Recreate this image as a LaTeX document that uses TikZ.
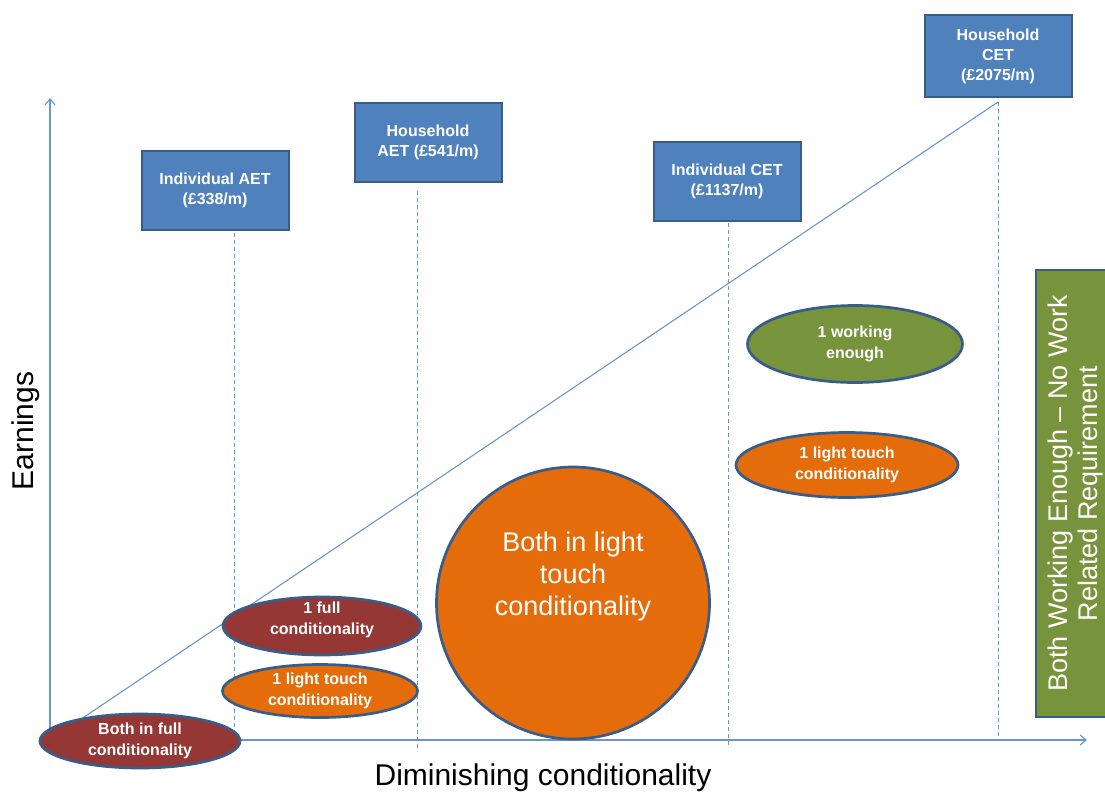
\documentclass[tikz,border=0pt]{standalone}
\usepackage{fontspec}
\setmainfont{Liberation Sans}
\usetikzlibrary{shapes.geometric,arrows.meta}
\definecolor{axisblue}{HTML}{6A96CC}
\definecolor{boxblue}{HTML}{4F81BD}
\definecolor{edgeblue}{HTML}{385D8A}
\definecolor{darkred}{HTML}{953735}
\definecolor{orangef}{HTML}{E46C0A}
\definecolor{greenf}{HTML}{77933C}
\tikzset{
  axisline/.style={draw=axisblue, line width=1.1pt},
  guide/.style={draw=axisblue, line width=1pt, dash pattern=on 4pt off 3pt},
  etbox/.style={rectangle, fill=boxblue, draw=edgeblue, line width=2pt, text=white,
    minimum width=147pt, minimum height=79pt, inner sep=0pt, align=center,
    font=\bfseries\fontsize{16}{20}\selectfont},
  blob/.style={ellipse, draw=edgeblue, line width=2.7pt, text=white, inner sep=0pt,
    align=center, font=\bfseries\fontsize{16}{21}\selectfont},
  blobtext/.style={text=white, inner sep=0pt, align=center},
}
\begin{document}
\begin{tikzpicture}[x=1pt,y=-1pt]
\useasboundingbox (0,0) rectangle (1105,792);
\clip (0,0) rectangle (1105,792);
% axes
\coordinate (O) at (50,740);
\coordinate (ytop) at (50,98);
\coordinate (xend) at (1087,740);
\draw[axisline, -{Straight Barb[length=6pt,width=10pt]}] (O) -- (ytop);
\draw[axisline, -{Straight Barb[length=6pt,width=10pt]}] (O) -- (xend);
% boxes
\node[etbox] (iaet) at (215,190) {Individual AET\\(£338/m)};
\node[etbox] (haet) at (428,142) {Household\\AET (£541/m)};
\node[etbox] (icet) at (727,181) {Individual CET\\(£1137/m)};
\node[etbox, minimum height=81pt] (hcet) at (998,56) {Household\\CET\\(£2075/m)};
% guide lines
\coordinate (g1a) at (234,233); \coordinate (g1b) at (234,740);
\coordinate (g2a) at (417,191); \coordinate (g2b) at (417,751);
\coordinate (g3a) at (728,223); \coordinate (g3b) at (728,746);
\coordinate (g4a) at (998,102); \coordinate (g4b) at (998,741);
\draw[guide] (g1a) -- (g1b);
\draw[guide] (g2a) -- (g2b);
\draw[guide] (g3a) -- (g3b);
\draw[guide] (g4a) -- (g4b);
% diagonal
\draw[axisline] (O) -- (g4a);
% ellipses
\node[blob, fill=darkred, minimum width=200pt, minimum height=54pt] (bfull) at (140,741) {Both in full\\conditionality};
\node[blob, fill=darkred, minimum width=198pt, minimum height=58pt] (ofull) at (322,626) {};
\node[blobtext, font=\bfseries\fontsize{16}{21}\selectfont] (ofullt) at ([yshift=6pt]ofull.center) {1 full\\conditionality};
\node[blob, fill=orangef, minimum width=195pt, minimum height=53pt] (olt1) at (320,691) {1 light touch\\conditionality};
\node[blob, fill=orangef, minimum width=273pt, minimum height=272pt] (blt) at (573,603) {};
\node[blobtext, font=\fontsize{27}{32}\selectfont] (bltt) at ([yshift=26pt]blt.center) {Both in light\\touch\\conditionality};
\node[blob, fill=greenf, minimum width=215pt, minimum height=77pt] (owe) at (855,344) {1 working\\enough};
\node[blob, fill=orangef, minimum width=222pt, minimum height=65pt] (olt2) at (847,465) {1 light touch\\conditionality};
% green bar
\node[rectangle, fill=greenf, draw=edgeblue, line width=2pt, minimum width=447pt, minimum height=80pt,
  rotate=90, inner sep=0pt, text=white, align=center, font=\fontsize{27}{30}\selectfont]
  (bwe) at (1076,493.5) {Both Working Enough – No Work\\Related Requirement};
% axis labels
\node[rotate=90, font=\fontsize{30}{36}\selectfont] (ylab) at (26,431) {Earnings};
\node[font=\fontsize{30}{36}\selectfont] (xlab) at (543,778) {Diminishing conditionality};
\end{tikzpicture}
\end{document}
